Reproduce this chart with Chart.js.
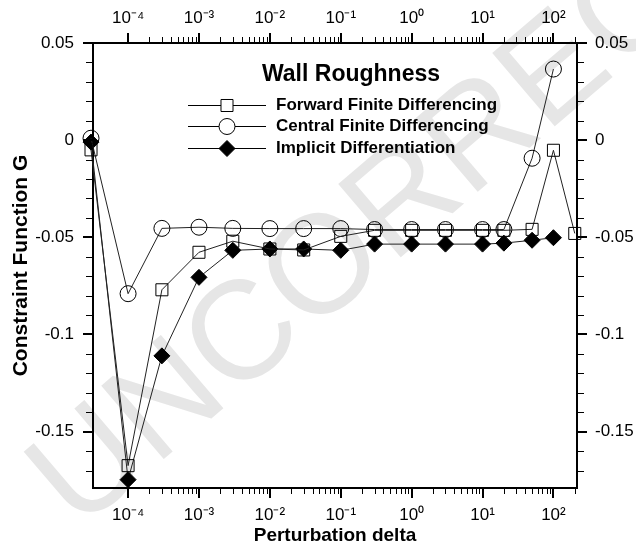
<!DOCTYPE html>
<html><head><meta charset="utf-8">
<script src="https://cdn.jsdelivr.net/npm/chart.js@4/dist/chart.umd.min.js"></script>
<style>html,body{margin:0;padding:0;background:#fff}#wrap{width:636px;height:548px;position:relative}</style>
</head><body><div id="wrap"><canvas id="c" width="636" height="548"></canvas></div>
<script>
// ---- data ----
const chartTitle = 'Wall Roughness';
const xAxisTitle = 'Perturbation delta';
const yAxisTitle = 'Constraint Function G';
const watermarkText = 'UNCORRECTED PROOF';
const seriesNames = ['Forward Finite Differencing', 'Central Finite Differencing', 'Implicit Differentiation'];
const deltas    = [3e-5, 1e-4, 3e-4, 1e-3, 3e-3, 1e-2, 3e-2, 1e-1, 3e-1, 1, 3, 10, 20, 50, 100, 200];
const forwardG  = [-0.005, -0.1675, -0.077, -0.0577, -0.052, -0.056, -0.0565, -0.0495, -0.0464, -0.0464, -0.0464, -0.0464, -0.0464, -0.0459, -0.0052, -0.048];
const centralG  = [0.001, -0.079, -0.0454, -0.0448, -0.0454, -0.0455, -0.0455, -0.0455, -0.046, -0.046, -0.046, -0.046, -0.046, -0.0093, 0.0366];
const implicitG = [-0.001, -0.1747, -0.111, -0.0706, -0.0567, -0.056, -0.056, -0.0567, -0.0535, -0.0535, -0.0535, -0.0535, -0.053, -0.0515, -0.0502];
const yTickLabels = ['0.05', '0', '-0.05', '-0.1', '-0.15'];
const xDecadeExponents = [-4, -3, -2, -1, 0, 1, 2];
const xMin = 3.2e-5, xMax = 215, yMin = -0.179, yMax = 0.05;

// ---- helpers ----
const FONT = '"Liberation Sans", Arial, Helvetica, sans-serif';
const SUP = {'-':'\u207B','0':'\u2070','1':'\u00B9','2':'\u00B2','3':'\u00B3','4':'\u2074','5':'\u2075','6':'\u2076','7':'\u2077','8':'\u2078','9':'\u2079'};
function decadeLabel(v) {
  const e = Math.log10(v), r = Math.round(e);
  if (Math.abs(e - r) > 1e-6 || !xDecadeExponents.includes(r)) return '';
  return '10' + String(r).split('').map(c => SUP[c]).join('');
}
function yLabel(v) {
  const k = Math.round(v * 100);
  if (Math.abs(v * 100 - k) > 1e-6 || k % 5 !== 0) return '';
  const s = k === 0 ? '0' : String(k / 100);
  return yTickLabels.includes(s) ? s : '';
}
const pts = arr => arr.map((g, i) => ({x: deltas[i], y: g})).filter(p => p.y !== null && p.y !== undefined);

const tickFont = {family: FONT, size: 17};
const border = {display: true, color: '#000', width: 2};
const noGrid = {display: false, drawTicks: false};

function xAxis(pos) {
  return {
    type: 'logarithmic', position: pos, min: xMin, max: xMax,
    grid: noGrid, border: border,
    ticks: {autoSkip: false, maxRotation: 0, minRotation: 0, padding: pos === 'top' ? 14 : 17, color: '#000', font: tickFont,
            callback: v => decadeLabel(v)},
    title: pos === 'bottom' ? {display: true, text: xAxisTitle, color: '#000', font: {family: FONT, size: 19, weight: 'bold'}, padding: {top: 0, bottom: 1}} : {display: false},
    afterFit: s => { s.height = pos === 'top' ? 43 : 60; }
  };
}
function yAxis(pos) {
  return {
    type: 'linear', position: pos, min: yMin, max: yMax,
    grid: noGrid, border: border,
    ticks: {stepSize: 0.01, autoSkip: false, padding: pos === 'left' ? 19 : 18, color: '#000', font: tickFont,
            callback: v => yLabel(v)},
    title: pos === 'left' ? {display: true, text: yAxisTitle, color: '#000', font: {family: FONT, size: 21, weight: 'bold'}, padding: {top: 9, bottom: 0}} : {display: false},
    afterFit: s => { s.width = pos === 'left' ? 93 : 59; }
  };
}

const markerStyles = [
  {pointStyle: 'rect', pointRadius: 8.5, pointBackgroundColor: 'rgba(0,0,0,0)'},
  {pointStyle: 'circle', pointRadius: 8, pointBackgroundColor: 'rgba(0,0,0,0)'},
  {pointStyle: 'rectRot', pointRadius: 8, pointBackgroundColor: '#000'}
];
const seriesValues = [forwardG, centralG, implicitG];

const datasets = seriesNames.map((name, i) => Object.assign({
  label: name, data: pts(seriesValues[i]), showLine: true, tension: 0,
  borderColor: '#222', borderWidth: 1, pointBorderColor: '#000', pointBorderWidth: 1,
  clip: false, xAxisID: 'x', yAxisID: 'y'
}, markerStyles[i]));

// ---- plugins ----
const watermark = {
  id: 'watermark',
  beforeDraw(chart) {
    const ctx = chart.ctx;
    ctx.save();
    ctx.fillStyle = '#fff'; ctx.fillRect(0, 0, chart.width, chart.height);
    ctx.translate(78, 532); ctx.rotate(-40.4 * Math.PI / 180);
    ctx.font = '140px ' + FONT; ctx.fillStyle = '#e6e6e6'; ctx.textBaseline = 'alphabetic';
    ctx.fillText(watermarkText, 0, 0);
    ctx.restore();
  }
};

const tickMarks = {
  id: 'tickMarks',
  afterDraw(chart) {
    const {ctx, chartArea: a} = chart, xs = chart.scales.x, ys = chart.scales.y;
    ctx.save(); ctx.strokeStyle = '#000';
    const seg = (x1, y1, x2, y2, w) => { ctx.lineWidth = w; ctx.beginPath(); ctx.moveTo(x1, y1); ctx.lineTo(x2, y2); ctx.stroke(); };
    for (const e of xDecadeExponents) {
      for (let m = 1; m <= 9; m++) {
        const v = m * Math.pow(10, e);
        if (v > xs.max * 1.0001) continue;
        const maj = m === 1, px = xs.getPixelForValue(v);
        const p = maj ? Math.round(px) : Math.round(px) + 0.5;
        const L = maj ? 10 : 6;
        seg(p, a.bottom, p, a.bottom + L, maj ? 2 : 1);
        seg(p, a.top, p, a.top - L, maj ? 2 : 1);
      }
    }
    for (let k = Math.ceil(ys.min * 100); k <= Math.floor(ys.max * 100 + 1e-9); k++) {
      const maj = k % 5 === 0, py = ys.getPixelForValue(k / 100);
      const p = maj ? Math.round(py) : Math.round(py) + 0.5;
      const L = maj ? 10 : 7;
      seg(a.left, p, a.left - L, p, maj ? 2 : 1);
      seg(a.right, p, a.right + L, p, maj ? 2 : 1);
    }
    ctx.restore();
  }
};

const annotations = {
  id: 'annotations',
  afterDatasetsDraw(chart) {
    const ctx = chart.ctx;
    ctx.save();
    ctx.fillStyle = '#000';
    ctx.textAlign = 'center'; ctx.textBaseline = 'middle';
    ctx.font = 'bold 23px ' + FONT;
    ctx.fillText(chartTitle, 351, 75);
    const rows = [104.5, 126, 147.5];
    chart.data.datasets.forEach((ds, i) => {
      const y = Math.round(rows[i]) + 0.5, cx = 227;
      ctx.strokeStyle = '#000'; ctx.lineWidth = 1;
      ctx.beginPath(); ctx.moveTo(188, y); ctx.lineTo(266, y); ctx.stroke();
      ctx.beginPath();
      const r = ds.pointRadius;
      if (ds.pointStyle === 'rect') { const h = r * Math.SQRT1_2; ctx.rect(cx - h, y - h, 2 * h, 2 * h); ctx.fillStyle = '#fff'; }
      else if (ds.pointStyle === 'circle') { ctx.arc(cx, y, r, 0, Math.PI * 2); ctx.fillStyle = '#fff'; }
      else { ctx.moveTo(cx - r, y); ctx.lineTo(cx, y - r); ctx.lineTo(cx + r, y); ctx.lineTo(cx, y + r); ctx.closePath(); ctx.fillStyle = '#000'; }
      ctx.fill(); ctx.stroke();
      ctx.fillStyle = '#000'; ctx.textAlign = 'left';
      ctx.font = 'bold 17px ' + FONT;
      ctx.fillText(ds.label, 276, y);
    });
    ctx.restore();
  }
};

new Chart(document.getElementById('c'), {
  type: 'scatter',
  data: {datasets},
  options: {
    responsive: false, devicePixelRatio: 1, animation: false, events: [],
    layout: {padding: 0},
    plugins: {legend: {display: false}, tooltip: {enabled: false}, title: {display: false}},
    scales: {x: xAxis('bottom'), x2: xAxis('top'), y: yAxis('left'), y2: yAxis('right')}
  },
  plugins: [watermark, tickMarks, annotations]
});
</script>
</body></html>
